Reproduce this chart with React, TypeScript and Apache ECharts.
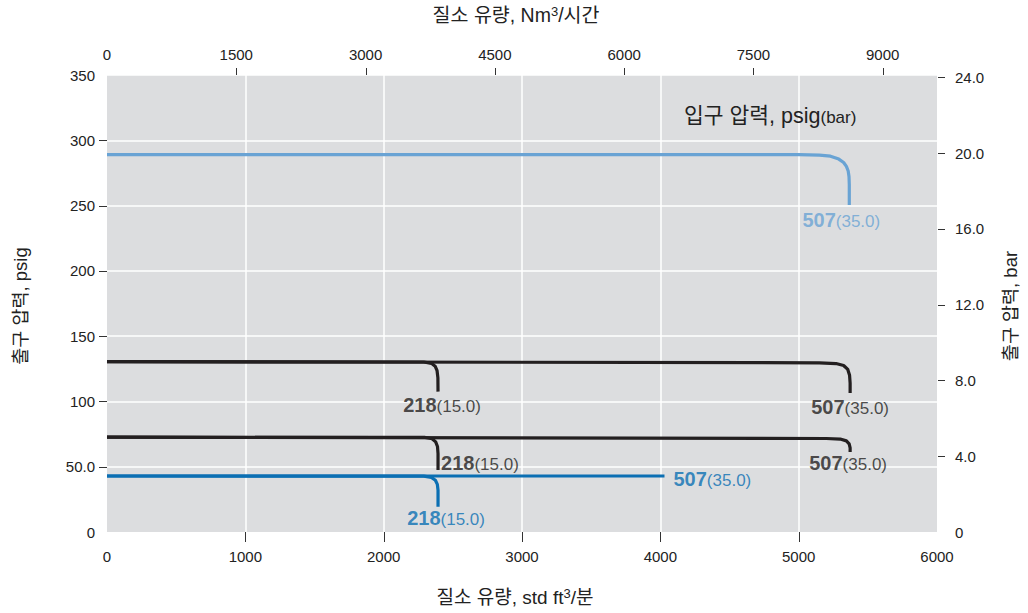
import React, { useEffect, useRef } from "react";
import * as echarts from "echarts";

// ---- axes (tick values) ----
const bottomTicks = [0, 1000, 2000, 3000, 4000, 5000, 6000]; // std ft3/min
const topTicks = [0, 1500, 3000, 4500, 6000, 7500, 9000]; // Nm3/h
const leftTicks = [0, 50, 100, 150, 200, 250, 300, 350]; // psig
const rightTicks = [0, 4, 8, 12, 16, 20, 24]; // bar
const topMax = 9630; // Nm3/h equivalent of 6000 scfm
const rightMax = 350 / 14.5038; // bar equivalent of 350 psig

// ---- curves: [flow scfm, outlet psig] ----
const lightBlue507 = [
  [0, 289], [5000, 289], [5150, 288.6], [5230, 287.8], [5290, 285.6], [5325, 283], [5345, 280], [5358, 276.5], [5364, 272], [5366, 266], [5366, 250.5],
];
const black1_507 = [
  [0, 130.5], [5150, 129.6], [5270, 129], [5325, 127.5], [5355, 124.5], [5368, 120], [5372, 114], [5372, 106.5],
];
const black1_218 = [
  [0, 130.5], [2290, 130.2], [2345, 129.2], [2372, 127], [2386, 123.5], [2392, 118], [2393, 107.5],
];
const black2_507 = [
  [0, 72.6], [5200, 71.6], [5300, 71.2], [5345, 69.8], [5365, 67.5], [5372, 64.5], [5372, 61.2],
];
const black2_218 = [
  [0, 72.6], [2300, 72.4], [2350, 71.4], [2376, 69], [2389, 65.5], [2393, 60], [2393, 47.5],
];
const blue507 = [
  [0, 42.9], [4030, 42.9],
];
const blue218 = [
  [0, 42.9], [2290, 42.8], [2345, 41.8], [2374, 39.6], [2388, 36.5], [2393, 32], [2393, 19.3],
];

// ---- end-point labels: inlet psig (bar) ----
const inlet507 = "507";
const inlet507Bar = "(35.0)";
const inlet218 = "218";
const inlet218Bar = "(15.0)";

const LIGHT_BLUE = "#69a3d4";
const BLACK = "#231f20";
const BLUE = "#0b6fb3";
const FONT = "'Liberation Sans', Arial, 'Noto Sans CJK KR', sans-serif";
const NARROW = "'Liberation Sans Narrow', 'Arial Narrow', 'Liberation Sans', 'Noto Sans CJK KR', sans-serif";
const KFONT = "'Liberation Sans', 'Noto Sans CJK KR', sans-serif";

function richFor(color: string) {
  return {
    n: { fontFamily: FONT, fontSize: 20, fontWeight: 600 as any, color },
    p: { fontFamily: FONT, fontSize: 17, color, padding: [3, 0, 0, 0] },
  };
}

function lineSeries(data: number[][], color: string) {
  return {
    type: "line",
    xAxisIndex: 0,
    yAxisIndex: 0,
    data,
    showSymbol: false,
    symbol: "none",
    lineStyle: { color, width: 3.2, cap: "butt", join: "round" },
    silent: true,
    z: 3,
  };
}

function endLabel(
  data: number[][],
  num: string,
  bar: string,
  color: string,
  position: string,
  offset: number[],
  distance: number
) {
  const last = data[data.length - 1];
  return {
    type: "scatter",
    xAxisIndex: 0,
    yAxisIndex: 0,
    symbolSize: 0,
    silent: true,
    z: 4,
    data: [last],
    label: {
      show: true,
      position,
      distance,
      offset,
      formatter: `{n|${num}}{p|${bar}}`,
      rich: richFor(color),
    },
  };
}

const TEXT_COLOR = "#222";

function titles() {
  return [
    {
      type: "text",
      x: 516,
      y: 15,
      style: {
        text: "질소 유량, Nm{s|3}/시간",
        font: `19.5px ${KFONT}`,
        fill: TEXT_COLOR,
        align: "center",
        verticalAlign: "middle",
        rich: { s: { fontSize: 13, fontFamily: FONT, padding: [0, 0, 7, 0] } },
      },
    },
    {
      type: "text",
      x: 515,
      y: 597,
      style: {
        text: "질소 유량, std ft{s|3}/분",
        font: `19px ${NARROW}`,
        fill: TEXT_COLOR,
        align: "center",
        verticalAlign: "middle",
        rich: { s: { fontSize: 13, fontFamily: NARROW, padding: [0, 0, 7, 0] } },
      },
    },
    {
      type: "text",
      x: 20,
      y: 306,
      rotation: Math.PI / 2,
      style: {
        text: "출구 압력, psig",
        font: `18.5px ${KFONT}`,
        fill: TEXT_COLOR,
        align: "center",
        verticalAlign: "middle",
      },
    },
    {
      type: "text",
      x: 1010,
      y: 306,
      rotation: Math.PI / 2,
      style: {
        text: "출구 압력, bar",
        font: `18.5px ${KFONT}`,
        fill: TEXT_COLOR,
        align: "center",
        verticalAlign: "middle",
      },
    },
    {
      type: "text",
      x: 684,
      y: 116,
      style: {
        text: "입구 압력, psig{b|(bar)}",
        font: `21.5px ${KFONT}`,
        fill: TEXT_COLOR,
        align: "left",
        verticalAlign: "middle",
        rich: { b: { fontSize: 17, fontFamily: FONT, fill: TEXT_COLOR, padding: [3, 0, 0, 0] } },
      },
    },
  ];
}

export default function App() {
  const ref = useRef<HTMLDivElement>(null);
  useEffect(() => {
    if (!ref.current) return;
    const chart = echarts.init(ref.current, null, { renderer: "svg" });
    const labelBase = { fontFamily: FONT, fontSize: 15, color: TEXT_COLOR };
    chart.setOption({
      animation: false,
      backgroundColor: "#ffffff",
      grid: {
        left: 107,
        top: 75,
        right: 91,
        bottom: 81,
        show: true,
        backgroundColor: "#dcdddf",
        borderWidth: 0,
        containLabel: false,
      },
      xAxis: [
        {
          type: "value",
          position: "bottom",
          min: 0,
          max: 6000,
          interval: 1000,
          axisLine: { show: false },
          axisTick: { show: false },
          axisLabel: {
            ...labelBase,
            fontFamily: NARROW,
            customValues: bottomTicks,
            margin: 17,
            formatter: (v: number) => String(v),
          },
          splitLine: { show: true, showMinLine: false, showMaxLine: false, lineStyle: { color: "#ffffff", width: 1.5 } },
        },
        {
          type: "value",
          position: "top",
          min: 0,
          max: topMax,
          axisLine: { show: false },
          axisTick: { show: false },
          axisLabel: {
            ...labelBase,
            customValues: topTicks,
            margin: 13,
            formatter: (v: number) => String(v),
          },
          splitLine: { show: false },
        },
      ],
      yAxis: [
        {
          type: "value",
          position: "left",
          min: 0,
          max: 350,
          interval: 50,
          axisLine: { show: false },
          axisTick: { show: false },
          axisLabel: {
            ...labelBase,
            customValues: leftTicks,
            margin: 12,
            formatter: (v: number) => (v === 50 ? "50.0" : String(v)),
          },
          splitLine: { show: true, showMinLine: false, showMaxLine: true, lineStyle: { color: "#ffffff", width: 1.5 } },
        },
        {
          type: "value",
          position: "right",
          min: 0,
          max: rightMax,
          axisLine: { show: false },
          axisTick: { show: false },
          axisLabel: {
            ...labelBase,
            customValues: rightTicks,
            margin: 18,
            formatter: (v: number) => (v === 0 ? "0" : v.toFixed(1)),
          },
          splitLine: { show: false },
        },
      ],
      series: [
        lineSeries(lightBlue507, LIGHT_BLUE),
        lineSeries(black1_507, BLACK),
        lineSeries(black1_218, BLACK),
        lineSeries(black2_507, BLACK),
        lineSeries(black2_218, BLACK),
        lineSeries(blue507, BLUE),
        lineSeries(blue218, BLUE),
        endLabel(lightBlue507, inlet507, inlet507Bar, LIGHT_BLUE, "bottom", [-8, 0], 5),
        endLabel(black1_507, inlet507, inlet507Bar, BLACK, "bottom", [0, 0], 4),
        endLabel(black1_218, inlet218, inlet218Bar, BLACK, "bottom", [4, 0], 3),
        endLabel(black2_218, inlet218, inlet218Bar, BLACK, "right", [0, -7], 3),
        endLabel(black2_507, inlet507, inlet507Bar, BLACK, "bottom", [-2, 0], 1),
        endLabel(blue507, inlet507, inlet507Bar, BLUE, "right", [0, 3], 9),
        endLabel(blue218, inlet218, inlet218Bar, BLUE, "bottom", [8, 0], 1),
      ],
    });

    // axis tick marks, placed through the axes' own scales
    const px = (axis: string, idx: number, v: number) =>
      chart.convertToPixel({ [axis]: idx } as any, v) as unknown as number;
    const yTop = px("yAxisIndex", 0, 350);
    const yBot = px("yAxisIndex", 0, 0);
    const xL = px("xAxisIndex", 0, 0);
    const xR = px("xAxisIndex", 0, 6000);
    const tickStyle = { stroke: "#333", lineWidth: 1 };
    const ticks: any[] = [];
    bottomTicks.slice(1, -1).forEach((v) => {
      const x = Math.round(px("xAxisIndex", 0, v)) + 0.5;
      ticks.push({ type: "line", shape: { x1: x, y1: yBot, x2: x, y2: yBot + 10 }, style: tickStyle, silent: true });
    });
    topTicks.slice(1).forEach((v) => {
      const x = Math.round(px("xAxisIndex", 1, v)) + 0.5;
      ticks.push({ type: "line", shape: { x1: x, y1: yTop - 7, x2: x, y2: yTop }, style: tickStyle, silent: true });
    });
    leftTicks.slice(1, -1).forEach((v) => {
      const y = Math.round(px("yAxisIndex", 0, v)) + 0.5;
      ticks.push({ type: "line", shape: { x1: xL - 8, y1: y, x2: xL, y2: y }, style: tickStyle, silent: true });
    });
    rightTicks.slice(1).forEach((v) => {
      const y = Math.round(px("yAxisIndex", 1, v)) + 0.5;
      ticks.push({ type: "line", shape: { x1: xR + 1, y1: y, x2: xR + 8, y2: y }, style: tickStyle, silent: true });
    });
    chart.setOption({ graphic: [...titles(), ...ticks] });

    return () => chart.dispose();
  }, []);
  return (
    <div
      ref={ref}
      style={{ position: "absolute", left: 0, top: 0, width: 1028, height: 613 }}
    />
  );
}
